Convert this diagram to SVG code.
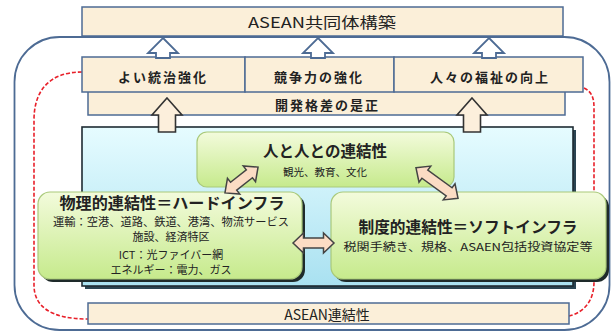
<svg xmlns="http://www.w3.org/2000/svg" width="612" height="331" viewBox="0 0 612 331">
<defs>
<linearGradient id="gBlue" x1="0" y1="0" x2="0" y2="1"><stop offset="0" stop-color="#e6fcff"/><stop offset="1" stop-color="#a9e1f1"/></linearGradient>
<linearGradient id="gGreen" x1="0" y1="0" x2="0" y2="1"><stop offset="0" stop-color="#f3fbdc"/><stop offset="1" stop-color="#c6ea8c"/></linearGradient>
<style>
.cream{fill:#fbefd9;stroke:#4d6b94;stroke-width:1.5}
.jp{font-family:"Noto Sans CJK JP","Noto Sans",sans-serif;fill:#222;text-anchor:middle}
.b{font-weight:bold}
.green{fill:url(#gGreen);stroke:#a9c97a;stroke-width:1.2}
.shadow{fill:#1e2a2a}
.upw{fill:#ffffff;stroke:#4d6b94;stroke-width:1.8;stroke-linejoin:miter}
.upc{fill:#fcefdc;stroke:#333;stroke-width:1.6}
.dbl{fill:#fbdcc4;stroke:#444;stroke-width:1.5}
.red{fill:none;stroke:#e8202a;stroke-width:1.6;stroke-dasharray:4 2}
</style>
</defs>

<g id="outer-frame"><rect x="14.5" y="37" width="595" height="293" rx="45" fill="none" stroke="#4d6b94" stroke-width="1.8"/></g>

<g id="connectors-red">
<path class="red" d="M82,72 C50,72 34,90 34,120 L34,285 C34,306 50,319 88,319"/>
<path class="red" d="M584,88 C592,92 594,98 594,108 L594,282 C594,300 585,312 569,316"/>
</g>

<g id="node-top"><rect class="cream" x="82" y="7" width="481" height="29"/><text class="jp" x="322" y="28" font-size="15" textLength="148" lengthAdjust="spacingAndGlyphs">ASEAN共同体構築</text></g>

<g id="node-kaihatsu"><rect class="cream" x="88" y="88" width="477" height="27"/><text class="jp b" x="327.5" y="110" font-size="13" letter-spacing="2">開発格差の是正</text></g>

<g id="node-governance"><rect class="cream" x="82" y="57" width="163" height="35"/><text class="jp b" x="163" y="82" font-size="13" letter-spacing="2">よい統治強化</text></g>
<g id="node-competition"><rect class="cream" x="245" y="57" width="149" height="35"/><text class="jp b" x="319" y="82" font-size="13" letter-spacing="2">競争力の強化</text></g>
<g id="node-welfare"><rect class="cream" x="394" y="57" width="189" height="35"/><text class="jp b" x="490" y="82" font-size="13" letter-spacing="2">人々の福祉の向上</text></g>

<g id="node-connectivity-bar"><rect class="cream" x="88" y="303" width="481" height="21"/><text class="jp" x="327" y="320" font-size="14">ASEAN連結性</text></g>

<g id="node-inner">
<rect x="85" y="130" width="491" height="159" fill="#2a4452"/>
<rect x="82" y="127" width="491" height="159" fill="url(#gBlue)" stroke="#1e2b33" stroke-width="1.6"/>
</g>

<g id="connectors">
<polygon class="upw" points="163,38 178,53 170,53 170,58 156,58 156,53 148,53"/>
<polygon class="upw" points="318,38 333,53 325,53 325,58 311,58 311,53 303,53"/>
<polygon class="upw" points="489,38 504,53 496,53 496,58 482,58 482,53 474,53"/>
<polygon class="upc" points="167,98 182,115 175.5,115 175.5,132 158.5,132 158.5,115 152,115"/>
<polygon class="upc" points="472,98 487,115 480.5,115 480.5,132 463.5,132 463.5,115 457,115"/>
</g>

<g id="node-people">
<rect class="green" x="197" y="132" width="257" height="55" rx="10"/>
<text class="jp b" x="325" y="157" font-size="15.5">人と人との連結性</text>
<text class="jp" x="325" y="176" font-size="10.5">観光、教育、文化</text>
</g>

<g id="node-hard">
<rect class="shadow" x="41" y="195" width="264" height="87" rx="12"/>
<rect class="green" x="38" y="192" width="264" height="87" rx="12"/>
<text class="jp b" x="172" y="209" font-size="15.5" textLength="225" lengthAdjust="spacingAndGlyphs">物理的連結性＝ハードインフラ</text>
<text class="jp" x="171" y="226" font-size="11" textLength="236" lengthAdjust="spacingAndGlyphs">運輸：空港、道路、鉄道、港湾、物流サービス</text>
<text class="jp" x="171" y="241" font-size="11">施設、経済特区</text>
<text class="jp" x="171" y="259" font-size="11">ICT：光ファイバー網</text>
<text class="jp" x="171" y="274" font-size="11">エネルギー：電力、ガス</text>
</g>

<g id="node-soft">
<rect class="shadow" x="334" y="195" width="275" height="87" rx="12"/>
<rect class="green" x="331" y="192" width="275" height="87" rx="12"/>
<text class="jp b" x="468" y="233" font-size="15.5" textLength="219" lengthAdjust="spacingAndGlyphs">制度的連結性＝ソフトインフラ</text>
<text class="jp" x="468" y="251" font-size="11" textLength="249" lengthAdjust="spacingAndGlyphs">税関手続き、規格、ASAEN包括投資協定等</text>
</g>

<g id="connectors-double">
<polygon class="dbl" transform="translate(241.5,180) rotate(-38)" points="-21,0 -10,-10 -10,-5 10,-5 10,-10 21,0 10,10 10,5 -10,5 -10,10"/>
<polygon class="dbl" transform="translate(437,183) rotate(36)" points="-26,0 -15,-10 -15,-5 15,-5 15,-10 26,0 15,10 15,5 -15,5 -15,10"/>
<polygon class="dbl" transform="translate(313.5,243)" points="-20.5,0 -10,-10 -10,-5 10,-5 10,-10 20.5,0 10,10 10,5 -10,5 -10,10"/>
</g>
</svg>
